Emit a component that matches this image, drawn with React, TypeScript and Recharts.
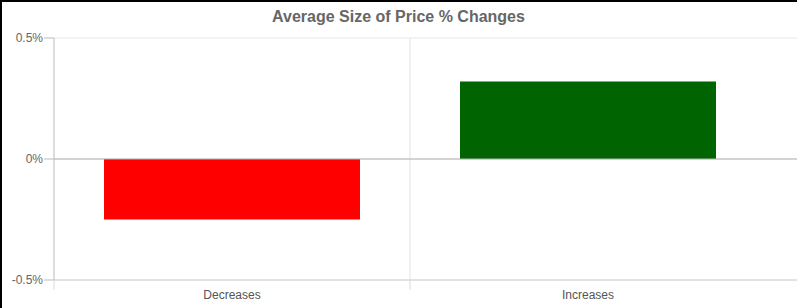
import { Bar, BarChart, CartesianGrid, Cell, ReferenceLine, XAxis, YAxis } from "recharts";

const CATEGORIES = ["Decreases", "Increases"];
const AVG_CHANGE = [-0.25, 0.32];
const BAR_COLORS = ["#ff0000", "#006400"];
const Y_TICKS = [-0.5, 0, 0.5];

const data = CATEGORIES.map((name, i) => ({ name, value: AVG_CHANGE[i] }));

const FONT = "'Liberation Sans', Arial, sans-serif";

const CategoryTick = (props: any) => {
  const { x, y, payload } = props;
  const half = payload?.offset ?? 0;
  return (
    <g>
      <line x1={x - half} x2={x - half} y1={y - 10} y2={y} stroke="#d9d9d9" />
      <text x={x} y={y} dy="0.71em" textAnchor="middle" fill="#555" fontSize={12} fontFamily={FONT}>
        {payload.value}
      </text>
    </g>
  );
};

const App = () => {
  return (
    <div style={{ position: "absolute", left: 0, top: 0, width: 797, height: 308, background: "#fff" }}>
      <div
        style={{
          position: "absolute",
          left: 0,
          top: 8,
          width: 797,
          textAlign: "center",
          fontFamily: FONT,
          fontWeight: "bold",
          fontSize: 16,
          color: "#666",
        }}
      >
        Average Size of Price % Changes
      </div>
      <BarChart
        width={797}
        height={308}
        data={data}
        margin={{ top: 38, right: 0, bottom: 0, left: 0 }}
        barSize={256}
      >
        <CartesianGrid vertical={false} stroke="#e6e6e6" />
        <XAxis
          dataKey="name"
          height={28}
          padding={{ left: 0, right: 31 }}
          axisLine={{ stroke: "#d0d0d0" }}
          tickLine={false}
          tickSize={10}
          tickMargin={0}
          tick={<CategoryTick />}
          interval={0}
        />
        <YAxis
          width={54}
          domain={[-0.5, 0.5]}
          ticks={Y_TICKS}
          tickFormatter={(v: number) => `${v}%`}
          axisLine={{ stroke: "#bbb" }}
          tickLine={{ stroke: "#bbb" }}
          tickSize={10}
          tickMargin={1}
          tick={{ fill: "#666", fontSize: 12, fontFamily: FONT }}
        />
        <ReferenceLine x="Increases" position="start" stroke="#e3e3e3" />
        <ReferenceLine y={0} stroke="#b3b3b3" />
        <Bar dataKey="value" isAnimationActive={false}>
          {data.map((_, i) => (
            <Cell key={i} fill={BAR_COLORS[i]} />
          ))}
        </Bar>
      </BarChart>
      <div
        style={{
          position: "absolute",
          left: 0,
          top: 0,
          width: 797,
          height: 308,
          borderLeft: "2px solid #000",
          borderTop: "2px solid #000",
          boxSizing: "border-box",
          pointerEvents: "none",
        }}
      />
    </div>
  );
};

export default App;
